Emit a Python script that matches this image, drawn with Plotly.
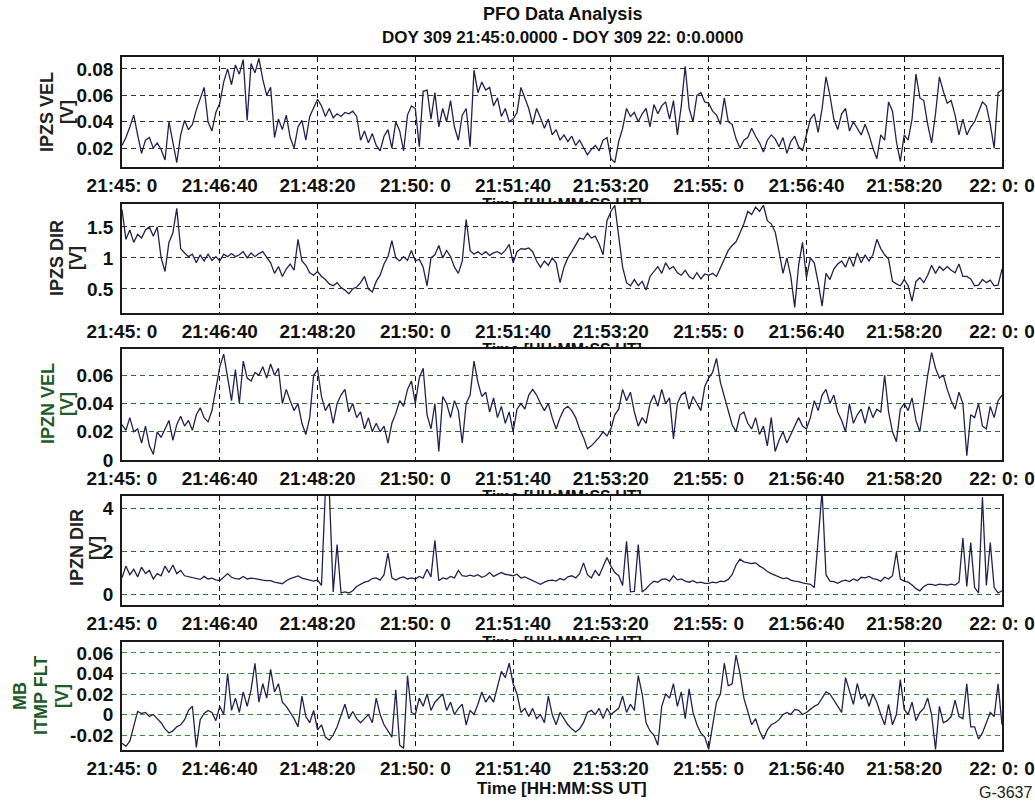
import plotly.graph_objects as go

# ---------------- data (4 s sampling) ----------------
tick_seconds = [0, 100, 200, 300, 400, 500, 600, 700, 800, 900]
tick_labels = ["21:45: 0", "21:46:40", "21:48:20", "21:50: 0", "21:51:40",
               "21:53:20", "21:55: 0", "21:56:40", "21:58:20", "22: 0: 0"]
sample_step_s = 4

ipzs_vel = [
    0.022, 0.028, 0.036, 0.045, 0.030, 0.016, 0.026, 0.028, 0.020, 0.024, 0.019, 0.011, 0.040, 0.024, 0.009, 0.030, 0.041, 0.034, 0.038, 0.049, 0.057, 0.066, 0.040, 0.033, 0.047,
    0.054, 0.070, 0.080, 0.068, 0.083, 0.076, 0.087, 0.041, 0.084, 0.077, 0.088, 0.072, 0.060, 0.066, 0.028, 0.042, 0.034, 0.045, 0.028, 0.020, 0.036, 0.041, 0.026, 0.044, 0.050,
    0.057, 0.052, 0.044, 0.050, 0.043, 0.046, 0.044, 0.047, 0.046, 0.048, 0.044, 0.026, 0.033, 0.024, 0.031, 0.022, 0.018, 0.029, 0.034, 0.020, 0.040, 0.033, 0.018, 0.045, 0.052,
    0.050, 0.021, 0.063, 0.064, 0.042, 0.062, 0.036, 0.050, 0.040, 0.056, 0.036, 0.026, 0.045, 0.050, 0.021, 0.079, 0.062, 0.070, 0.064, 0.066, 0.052, 0.058, 0.044, 0.050, 0.040,
    0.042, 0.047, 0.066, 0.058, 0.050, 0.038, 0.050, 0.043, 0.035, 0.042, 0.030, 0.034, 0.026, 0.030, 0.025, 0.029, 0.022, 0.026, 0.020, 0.015, 0.019, 0.022, 0.018, 0.026, 0.028,
    0.012, 0.009, 0.025, 0.035, 0.050, 0.044, 0.047, 0.040, 0.046, 0.050, 0.036, 0.053, 0.046, 0.052, 0.055, 0.042, 0.056, 0.030, 0.052, 0.082, 0.050, 0.040, 0.060, 0.062, 0.055,
    0.054, 0.048, 0.045, 0.038, 0.058, 0.040, 0.038, 0.027, 0.020, 0.026, 0.028, 0.035, 0.029, 0.024, 0.017, 0.026, 0.030, 0.027, 0.021, 0.028, 0.016, 0.025, 0.029, 0.021, 0.018,
    0.030, 0.042, 0.046, 0.032, 0.050, 0.074, 0.060, 0.042, 0.034, 0.046, 0.050, 0.033, 0.040, 0.035, 0.030, 0.038, 0.030, 0.020, 0.012, 0.030, 0.026, 0.055, 0.048, 0.025, 0.010,
    0.030, 0.026, 0.042, 0.076, 0.058, 0.056, 0.038, 0.024, 0.046, 0.074, 0.063, 0.054, 0.056, 0.045, 0.030, 0.042, 0.030, 0.036, 0.040, 0.048, 0.055, 0.052, 0.038, 0.020, 0.062,
    0.064,
]

ipzs_dir = [
    1.78, 1.30, 1.45, 1.25, 1.38, 1.32, 1.45, 1.50, 1.35, 1.50, 1.00, 0.78, 1.25, 1.40, 1.80, 1.15, 1.08, 1.02, 1.06, 0.92, 1.05, 0.95, 1.06, 0.96, 1.02,
    0.95, 1.06, 1.02, 1.07, 1.02, 1.05, 1.10, 1.00, 1.08, 1.02, 1.07, 1.10, 1.00, 0.92, 0.75, 0.86, 0.70, 0.82, 0.90, 0.80, 1.30, 0.95, 0.88, 0.76, 0.72,
    0.78, 0.70, 0.65, 0.58, 0.55, 0.60, 0.52, 0.48, 0.42, 0.50, 0.53, 0.60, 0.70, 0.50, 0.45, 0.62, 0.72, 0.90, 1.02, 1.28, 1.00, 0.95, 1.02, 0.96, 1.12,
    0.95, 0.98, 0.85, 0.55, 1.00, 1.05, 1.20, 1.00, 1.12, 1.02, 0.85, 0.75, 0.95, 1.62, 1.12, 1.06, 1.10, 1.05, 1.10, 1.04, 1.08, 1.10, 1.06, 1.12, 1.22,
    0.92, 1.10, 1.15, 1.14, 1.16, 1.10, 0.95, 0.85, 0.95, 0.88, 1.00, 0.92, 0.60, 0.85, 1.00, 1.10, 1.20, 1.32, 1.30, 1.40, 1.32, 1.35, 1.22, 1.05, 1.60,
    1.75, 1.85, 1.30, 0.85, 0.60, 0.55, 0.65, 0.55, 0.62, 0.48, 0.70, 0.78, 0.86, 0.75, 0.92, 0.82, 0.86, 0.76, 0.72, 0.80, 0.70, 0.66, 0.76, 0.66, 0.74,
    0.72, 0.75, 0.70, 0.85, 0.98, 1.12, 1.20, 1.26, 1.40, 1.55, 1.75, 1.70, 1.82, 1.75, 1.85, 1.60, 1.55, 1.42, 1.10, 0.75, 1.00, 0.70, 0.20, 0.88, 1.25,
    0.68, 1.00, 0.92, 0.60, 0.22, 0.75, 0.65, 0.82, 0.90, 0.95, 0.85, 1.02, 0.86, 1.08, 0.92, 1.05, 0.95, 1.05, 1.30, 1.15, 1.05, 0.98, 0.62, 0.58, 0.55,
    0.65, 0.55, 0.30, 0.62, 0.68, 0.60, 0.72, 0.88, 0.75, 0.86, 0.80, 0.86, 0.80, 0.76, 0.90, 0.70, 0.70, 0.66, 0.55, 0.56, 0.65, 0.60, 0.64, 0.55, 0.56,
    0.82,
]

ipzn_vel = [
    0.025, 0.021, 0.030, 0.020, 0.022, 0.012, 0.024, 0.010, 0.004, 0.020, 0.016, 0.022, 0.028, 0.014, 0.025, 0.031, 0.024, 0.028, 0.021, 0.032, 0.037, 0.030, 0.027, 0.035, 0.052,
    0.066, 0.075, 0.058, 0.042, 0.064, 0.040, 0.070, 0.058, 0.056, 0.062, 0.060, 0.066, 0.058, 0.068, 0.060, 0.065, 0.040, 0.050, 0.042, 0.035, 0.040, 0.026, 0.018, 0.030, 0.060,
    0.064, 0.045, 0.035, 0.040, 0.026, 0.040, 0.046, 0.050, 0.034, 0.040, 0.030, 0.034, 0.022, 0.030, 0.020, 0.026, 0.020, 0.024, 0.012, 0.026, 0.033, 0.042, 0.038, 0.050, 0.056,
    0.040, 0.058, 0.065, 0.032, 0.022, 0.040, 0.006, 0.045, 0.040, 0.030, 0.042, 0.035, 0.012, 0.040, 0.046, 0.070, 0.055, 0.045, 0.048, 0.034, 0.044, 0.030, 0.038, 0.026, 0.034,
    0.020, 0.036, 0.040, 0.036, 0.046, 0.050, 0.046, 0.040, 0.035, 0.040, 0.030, 0.022, 0.030, 0.036, 0.038, 0.035, 0.030, 0.022, 0.016, 0.008, 0.010, 0.013, 0.016, 0.020, 0.017,
    0.022, 0.032, 0.036, 0.050, 0.042, 0.048, 0.034, 0.024, 0.030, 0.026, 0.040, 0.046, 0.038, 0.050, 0.040, 0.044, 0.015, 0.040, 0.046, 0.048, 0.036, 0.045, 0.040, 0.035, 0.052,
    0.058, 0.062, 0.072, 0.055, 0.045, 0.036, 0.025, 0.020, 0.032, 0.034, 0.026, 0.022, 0.030, 0.018, 0.024, 0.010, 0.030, 0.006, 0.014, 0.020, 0.012, 0.018, 0.024, 0.030, 0.024,
    0.022, 0.030, 0.042, 0.035, 0.046, 0.050, 0.040, 0.046, 0.034, 0.028, 0.020, 0.040, 0.026, 0.032, 0.036, 0.026, 0.038, 0.030, 0.036, 0.034, 0.060, 0.034, 0.020, 0.013, 0.036,
    0.040, 0.035, 0.044, 0.028, 0.020, 0.040, 0.060, 0.076, 0.065, 0.058, 0.060, 0.050, 0.042, 0.036, 0.048, 0.040, 0.003, 0.032, 0.030, 0.040, 0.024, 0.022, 0.038, 0.030, 0.042,
    0.046,
]

ipzn_dir = [
    0.75, 1.30, 0.90, 1.15, 0.80, 1.25, 0.95, 1.10, 0.70, 0.95, 0.85, 1.30, 1.00, 1.35, 0.95, 1.10, 0.85, 0.80, 0.75, 0.72, 0.68, 0.82, 0.70, 0.74, 0.66,
    0.62, 0.78, 0.95, 0.78, 0.72, 0.70, 0.82, 0.70, 0.74, 0.72, 0.70, 0.65, 0.62, 0.62, 0.55, 0.52, 0.48, 0.62, 0.72, 0.78, 0.84, 0.74, 0.70, 0.64, 0.60,
    0.65, 0.40, 4.80, 4.80, 0.10, 2.30, 0.05, 0.10, 0.05, 0.15, 0.35, 0.45, 0.55, 0.60, 0.72, 0.75, 0.65, 0.90, 1.90, 0.75, 0.65, 0.75, 0.80, 0.70, 0.75,
    0.70, 0.82, 0.74, 1.15, 0.80, 2.50, 0.62, 0.75, 0.70, 0.82, 0.75, 1.10, 0.85, 0.82, 0.88, 0.82, 0.90, 0.78, 0.85, 1.00, 0.82, 0.90, 1.00, 0.92, 0.88,
    0.85, 0.92, 0.75, 0.80, 0.72, 0.62, 0.55, 0.45, 0.55, 0.62, 0.65, 0.60, 0.72, 0.65, 0.80, 0.85, 0.75, 0.95, 1.45, 0.90, 0.75, 1.10, 0.85, 1.30, 1.70,
    1.30, 1.00, 0.85, 0.40, 2.45, 0.10, 0.12, 2.30, 0.10, 0.25, 0.45, 0.60, 0.55, 0.68, 0.70, 0.60, 0.85, 0.66, 0.70, 0.60, 0.55, 0.62, 0.52, 0.55, 0.50,
    0.50, 0.55, 0.52, 0.60, 0.58, 0.68, 0.90, 1.35, 1.62, 1.50, 1.45, 1.42, 1.45, 1.30, 1.20, 1.05, 0.95, 0.88, 0.80, 0.72, 0.75, 0.65, 0.60, 0.58, 0.52,
    0.50, 0.45, 0.30, 2.50, 4.80, 0.90, 0.60, 0.58, 0.50, 0.60, 0.65, 0.58, 0.70, 0.62, 0.78, 0.75, 0.82, 0.72, 0.68, 0.60, 0.78, 0.70, 0.85, 1.95, 0.70,
    0.60, 0.55, 0.42, 0.25, 0.15, 0.35, 0.45, 0.45, 0.40, 0.46, 0.44, 0.42, 0.46, 0.42, 0.55, 2.60, 0.35, 2.40, 0.30, 0.05, 4.50, 0.40, 2.40, 0.30, 0.05,
    0.15,
]

mb_itmp_flt = [
    -0.028, -0.031, -0.026, -0.010, 0.003, 0.001, 0.002, -0.002, 0.000, -0.004, -0.008, -0.014, -0.018, -0.016, -0.012, -0.010, -0.005, 0.004, 0.008, -0.032, -0.005, 0.001, 0.004, 0.002, -0.006,
    0.008, 0.000, 0.040, 0.004, 0.016, 0.002, 0.022, 0.008, 0.024, 0.050, 0.012, 0.030, 0.016, 0.044, 0.022, 0.030, 0.012, 0.008, 0.002, -0.004, -0.012, 0.018, -0.002, -0.008, 0.004,
    -0.015, -0.010, -0.022, -0.025, -0.020, -0.012, 0.000, 0.010, -0.004, 0.003, -0.004, -0.008, -0.004, 0.000, -0.008, 0.016, 0.000, -0.010, -0.016, -0.022, 0.024, -0.030, -0.033, 0.038, 0.002,
    0.000, 0.016, 0.008, 0.020, 0.004, 0.012, 0.016, 0.020, 0.004, 0.012, 0.000, 0.006, 0.010, -0.010, 0.004, 0.000, 0.010, 0.022, 0.012, 0.018, 0.012, 0.028, 0.042, 0.036, 0.050,
    0.030, 0.020, 0.002, 0.006, -0.002, 0.006, -0.004, 0.000, -0.008, 0.018, 0.000, -0.010, 0.002, -0.004, -0.010, -0.014, -0.017, -0.014, -0.008, 0.002, 0.004, 0.000, 0.006, -0.004, 0.006,
    0.000, 0.003, 0.006, 0.018, 0.002, 0.010, 0.004, 0.038, 0.020, -0.008, -0.016, -0.020, -0.030, 0.008, 0.020, 0.016, 0.030, 0.008, 0.022, -0.004, 0.025, 0.002, -0.010, -0.018, -0.022,
    -0.034, -0.012, 0.012, 0.020, 0.050, 0.028, 0.030, 0.058, 0.040, 0.016, 0.002, -0.010, -0.004, -0.016, -0.024, -0.015, -0.010, -0.008, -0.005, 0.000, 0.002, 0.000, 0.005, 0.004, 0.000,
    0.002, 0.005, 0.008, 0.010, 0.016, 0.022, 0.020, 0.014, 0.008, 0.002, 0.036, 0.022, 0.010, 0.030, 0.015, 0.020, 0.008, 0.020, 0.012, 0.000, -0.010, 0.010, -0.010, 0.000, 0.034,
    0.005, 0.000, 0.012, -0.006, 0.002, 0.006, 0.016, 0.000, -0.034, 0.008, -0.008, -0.006, -0.002, 0.014, -0.002, -0.004, 0.030, -0.012, -0.012, -0.024, -0.018, -0.008, 0.002, -0.002, 0.030,
    -0.010,
]

time_s = [i * sample_step_s for i in range(len(ipzs_vel))]

# ---------------- layout / style ----------------
W, H = 1035, 805
X_LEFT, X_RIGHT = 122, 1002
FONT = "Liberation Sans, Arial, sans-serif"
LINE_COLOR = "#25214f"
AXIS_COLOR = "#1a1a1a"
DASH = "5px,4px"

panels = [
    dict(y=ipzs_vel, top=57, bottom=167, yr=[0.0057, 0.089],
         tv=[0.02, 0.04, 0.06, 0.08], tt=["0.02", "0.04", "0.06", "0.08"],
         titles=[("IPZS VEL", 47), ("[V]", 67)], ty=112, tcol="#222222", gcol="#333333"),
    dict(y=ipzs_dir, top=204, bottom=313, yr=[0.11, 1.87],
         tv=[0.5, 1, 1.5], tt=["0.5", "1", "1.5"],
         titles=[("IPZS DIR", 57), ("[V]", 76)], ty=258, tcol="#222222", gcol="#333333"),
    dict(y=ipzn_vel, top=349, bottom=460, yr=[0.0, 0.0786],
         tv=[0, 0.02, 0.04, 0.06], tt=["0", "0.02", "0.04", "0.06"],
         titles=[("IPZN VEL", 48), ("[V]", 67)], ty=404, tcol="#1f5a2a", gcol="#2f6a35"),
    dict(y=ipzn_dir, top=496, bottom=605, yr=[-0.51, 4.56],
         tv=[0, 2, 4], tt=["0", "2", "4"],
         titles=[("IPZN DIR", 77), ("[V]", 96)], ty=548, tcol="#222222", gcol="#2f6a35"),
    dict(y=mb_itmp_flt, top=642, bottom=750, yr=[-0.0346, 0.0707],
         tv=[-0.02, 0, 0.02, 0.04, 0.06], tt=["-0.02", "0", "0.02", "0.04", "0.06"],
         titles=[("MB", 20), ("ITMP FLT", 41), ("[V]", 62)], ty=696, tcol="#1f5a2a", gcol="#3a8a40"),
]

fig = go.Figure()
layout = dict(
    width=W, height=H, margin=dict(l=0, r=0, t=0, b=0, autoexpand=False),
    paper_bgcolor="white", plot_bgcolor="rgba(0,0,0,0)", showlegend=False,
    font=dict(family=FONT, color="#111111"),
)
annotations = []
tickfont = dict(family=FONT, size=19, color="#111111", weight="bold")

for i, p in enumerate(panels, start=1):
    xa, ya = f"x{i}", f"y{i}"
    fig.add_trace(go.Scatter(x=time_s, y=p["y"], mode="lines", xaxis=xa, yaxis=ya,
                             line=dict(color=LINE_COLOR, width=1.3), hoverinfo="skip"))
    layout[f"xaxis{i}"] = dict(
        domain=[X_LEFT / W, X_RIGHT / W], anchor=ya, range=[0, 900], automargin=False,
        tickmode="array", tickvals=tick_seconds, ticktext=tick_labels,
        tickfont=tickfont, ticks="", ticklabelstandoff=0,
        showgrid=True, gridcolor="#111111", griddash=DASH, gridwidth=1,
        showline=True, mirror=True, linecolor=AXIS_COLOR, linewidth=1.6,
        zeroline=False, fixedrange=True,
    )
    layout[f"yaxis{i}"] = dict(
        domain=[1 - p["bottom"] / H, 1 - p["top"] / H], anchor=xa, range=p["yr"], automargin=False,
        tickmode="array", tickvals=p["tv"], ticktext=p["tt"],
        tickfont=tickfont, ticks="", ticklabelstandoff=3,
        showgrid=True, gridcolor=p["gcol"], griddash=DASH, gridwidth=1,
        showline=True, mirror=True, linecolor=AXIS_COLOR, linewidth=1.6,
        zeroline=False, fixedrange=True,
    )
    for txt, tx in p["titles"]:
        annotations.append(dict(
            text=txt, x=tx / W, y=1 - p["ty"] / H, xref="paper", yref="paper",
            xanchor="center", yanchor="middle", showarrow=False, textangle=-90,
            font=dict(family=FONT, size=18, color=p["tcol"], weight="bold"),
        ))

# x-axis titles of panels 1-4 are partly hidden under the next panel: clip them in small overlay subplots
for j in range(4):
    k = 6 + j
    upper, lower = panels[j], panels[j + 1]
    gap_top, gap_bottom = upper["bottom"], lower["top"]
    layout[f"xaxis{k}"] = dict(domain=[0, 1], range=[0, W], anchor=f"y{k}", visible=False,
                               fixedrange=True, automargin=False)
    layout[f"yaxis{k}"] = dict(domain=[1 - gap_bottom / H, 1 - gap_top / H], range=[gap_bottom, gap_top],
                               anchor=f"x{k}", visible=False, fixedrange=True, automargin=False)
    fig.add_trace(go.Scatter(
        x=[(X_LEFT + X_RIGHT) / 2], y=[gap_bottom + 2], mode="text", text=["Time [HH:MM:SS UT]"],
        textposition="middle center", cliponaxis=True, xaxis=f"x{k}", yaxis=f"y{k}",
        textfont=dict(family=FONT, size=16, color="#111111", weight="bold"), hoverinfo="skip",
    ))

annotations += [
    dict(text="PFO Data Analysis", x=(X_LEFT + X_RIGHT) / 2 / W, y=1 - 14 / H, xref="paper", yref="paper",
         showarrow=False, xanchor="center", yanchor="middle",
         font=dict(family=FONT, size=18, color="#111111", weight="bold")),
    dict(text="DOY 309 21:45:0.0000 - DOY 309 22: 0:0.0000", x=(X_LEFT + X_RIGHT) / 2 / W, y=1 - 37 / H,
         xref="paper", yref="paper", showarrow=False, xanchor="center", yanchor="middle",
         font=dict(family=FONT, size=17, color="#111111", weight="bold")),
    dict(text="Time [HH:MM:SS UT]", x=(X_LEFT + X_RIGHT) / 2 / W, y=1 - 788 / H, xref="paper", yref="paper",
         showarrow=False, xanchor="center", yanchor="middle",
         font=dict(family=FONT, size=17, color="#111111", weight="bold")),
    dict(text="G-3637", x=1005 / W, y=1 - 792 / H, xref="paper", yref="paper",
         showarrow=False, xanchor="center", yanchor="middle",
         font=dict(family=FONT, size=16, color="#222222")),
]
layout["annotations"] = annotations
fig.update_layout(**layout)
fig.write_html("out.html")
